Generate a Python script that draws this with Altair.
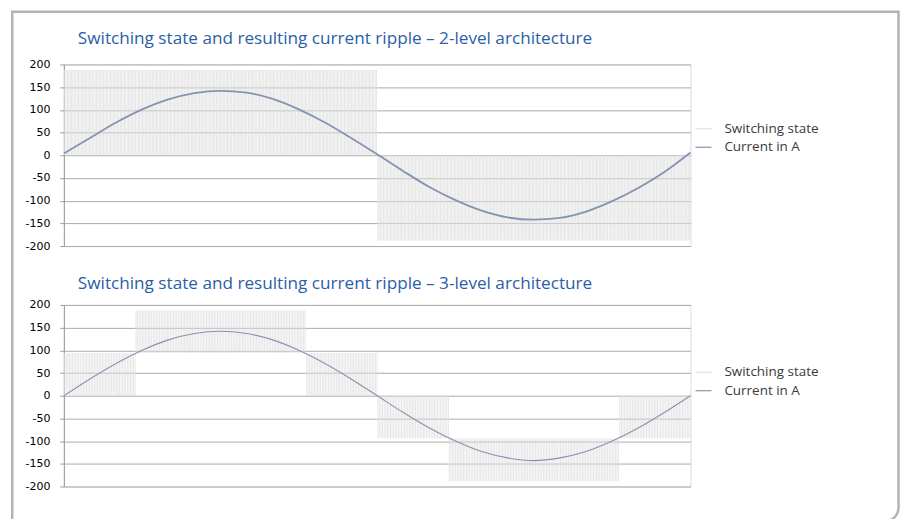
import altair as alt
import numpy as np
import pandas as pd

# ---------------- data ----------------
phase_deg = [0, 15, 30, 45, 60, 75, 90, 105, 120, 135, 150, 165, 180,
             195, 210, 225, 240, 255, 270, 285, 300, 315, 330, 345, 360]
current_2l = [4, 38, 72, 101, 123, 137, 142, 138, 124, 101, 72, 38, 2,
              -35, -70, -99, -122, -137, -142, -138, -124, -101, -72, -37, 6]
current_3l = [0, 37, 71, 100, 123, 137, 142, 137, 123, 100, 71, 37, 0,
              -37, -71, -100, -123, -137, -143, -137, -123, -100, -71, -37, 0]
y_ticks = [-200, -150, -100, -50, 0, 50, 100, 150, 200]

# switching-state blocks (phase start, phase end, low level, high level)
sw_2l_start = [0, 180]
sw_2l_end = [180, 360]
sw_2l_low = [0, -188]
sw_2l_high = [188, 0]
sw_3l_start = [0, 41, 139, 180, 221, 319]
sw_3l_end = [41, 139, 180, 221, 319, 360]
sw_3l_low = [0, 94, 0, -94, -188, -94]
sw_3l_high = [94, 188, 94, 0, -94, 0]
# spacing of the switching edges (degrees), read from the stripe density
edge_step_2l = 0.8
edge_step_3l = 0.9

series_names = ["Switching state", "Current in A"]
series_colors = ["#e0e0e0", "#8494b0"]
titles = ["Switching state and resulting current ripple \u2013 2-level architecture",
          "Switching state and resulting current ripple \u2013 3-level architecture"]


def switching_df(starts, ends, lows, highs, step):
    rows = []
    for s, e, lo, hi in zip(starts, ends, lows, highs):
        for d in np.arange(s + step / 2, e, step):
            rows.append({"deg": float(d), "lo": lo, "hi": hi, "series": series_names[0]})
    return pd.DataFrame(rows)


def current_df(values):
    return pd.DataFrame({"deg": phase_deg, "value": values, "series": series_names[1]})


x_enc = alt.X("deg:Q", scale=alt.Scale(domain=[0, 360], nice=False, zero=False), axis=None)
y_scale = alt.Scale(domain=[-200, 200], nice=False)
y_axis = alt.Axis(values=y_ticks, title=None, grid=True, gridColor="#ababab", gridWidth=1,
                  domainColor="#9a9a9a", tickColor="#9a9a9a", tickSize=4, labelPadding=10,
                  labelExpr="'' + datum.value",
                  labelFont="DejaVu Sans", labelFontSize=11, labelColor="#000000")


def panel(title, sw, cur, legend_y, line_w, title_offset, extra=None):
    color = alt.Color("series:N",
                      scale=alt.Scale(domain=series_names, range=series_colors),
                      legend=alt.Legend(title=None, orient="none", legendX=632, legendY=legend_y,
                                        symbolType="stroke", symbolSize=256, symbolStrokeWidth=1.2,
                                        labelFont="Open Sans", labelFontSize=13.5, labelColor="#3a3a3a",
                                        labelOffset=12, rowPadding=2.5, padding=0))
    rules = alt.Chart(sw).mark_rule(strokeWidth=0.8).encode(
        x=x_enc, y=alt.Y("lo:Q", scale=y_scale, axis=y_axis), y2="hi:Q", color=color)
    line = alt.Chart(cur).mark_line(interpolate="monotone", strokeWidth=line_w).encode(
        x=x_enc, y=alt.Y("value:Q", scale=y_scale, axis=y_axis), color=color)
    layers = [rules, line]
    if extra is not None:
        layers.append(extra)
    return alt.layer(*layers).properties(
        width=628, height=182,
        title=alt.Title(title, anchor="start", frame="group", dx=14, offset=title_offset,
                        fontSize=17.2, font="Open Sans", fontWeight="normal", color="#2a5ea6"))


frame = alt.Chart(pd.DataFrame({"k": [0]})).mark_rect(
    fillOpacity=0, stroke="#b5b5ab", strokeWidth=2.5, cornerRadiusBottomRight=14
).encode(x=alt.value(-51.75), x2=alt.value(836.5), y=alt.value(-52.7), y2=alt.value(458))

top = panel(titles[0], switching_df(sw_2l_start, sw_2l_end, sw_2l_low, sw_2l_high, edge_step_2l),
            current_df(current_2l), 55.5, 1.8, -36.5, frame)
bottom = panel(titles[1], switching_df(sw_3l_start, sw_3l_end, sw_3l_low, sw_3l_high, edge_step_3l),
               current_df(current_3l), 58.5, 1.1, 7)

chart = alt.vconcat(top, bottom, spacing=59, bounds="flush").resolve_scale(
    color="independent"
).properties(
    padding={"left": 2, "top": 1, "right": 0, "bottom": 0}
).configure_view(stroke=None).configure(background="white")

chart.save("out.html", embed_options={"renderer": "svg", "actions": False})
